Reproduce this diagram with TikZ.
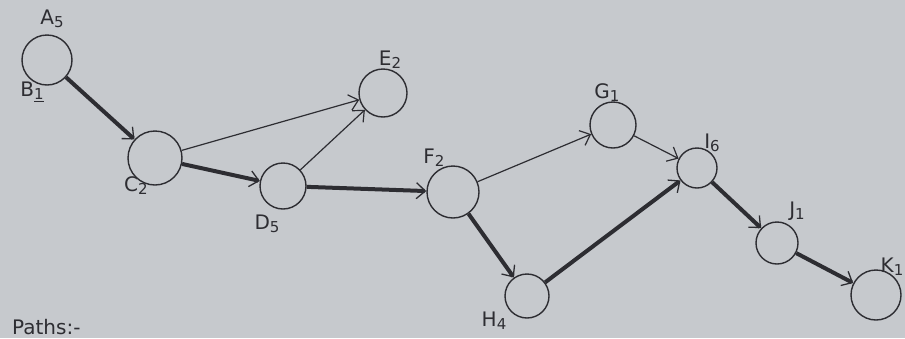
\documentclass[tikz,border=0pt]{standalone}
\usepackage{fontspec}
\setmainfont{DejaVu Sans}
\usetikzlibrary{arrows.meta}
\definecolor{paper}{RGB}{198,201,205}
\definecolor{ink}{RGB}{45,45,50}
\newcommand{\sbx}[1]{\raisebox{-3pt}{\fontsize{15}{17}\selectfont #1}}
\begin{document}
\begin{tikzpicture}[x=1pt,y=-1pt,
  evnode/.style={circle,draw=ink,line width=1.4pt,inner sep=0pt},
  lbl/.style={text=ink,font=\fontsize{20}{22}\selectfont,inner sep=0pt},
  thin/.style={draw=ink,line width=1.2pt,-{Straight Barb[length=9pt,width=16pt,line width=1.2pt]}},
  crit/.style={draw=ink,line width=4pt,-{Straight Barb[length=9pt,width=16pt,line width=1.3pt]}}]
\clip (0,0) rectangle (905,338);
\fill[paper] (0,0) rectangle (905,338);
% nodes
\node[evnode,minimum size=50pt] (A) at (47,60) {};
\node[evnode,minimum size=54pt] (C) at (155,158) {};
\node[evnode,minimum size=46pt] (D) at (283,186) {};
\node[evnode,minimum size=48pt] (E) at (383,93) {};
\node[evnode,minimum size=52pt] (F) at (453,192) {};
\node[evnode,minimum size=46pt] (G) at (613,125) {};
\node[evnode,minimum size=44pt] (H) at (527,296) {};
\node[evnode,minimum size=40pt] (I) at (697,168) {};
\node[evnode,minimum size=42pt] (J) at (777,243) {};
\node[evnode,minimum size=50pt] (K) at (876,295) {};
% labels
\node[lbl] (lA) at (52,19) {A\sbx{5}};
\node[lbl] (lB) at (32,92) {B\sbx{\underline{1}}};
\node[lbl] (lC) at (136,186) {C\sbx{2}};
\node[lbl] (lD) at (267,224) {D\sbx{5}};
\node[lbl] (lE) at (390,60) {E\sbx{2}};
\node[lbl] (lF) at (434,158) {F\sbx{2}};
\node[lbl] (lG) at (607,93) {G\sbx{1}};
\node[lbl] (lH) at (494,321) {H\sbx{4}};
\node[lbl] (lI) at (712,143) {I\sbx{6}};
\node[lbl] (lJ) at (797,211) {J\sbx{1}};
\node[lbl] (lK) at (892,267) {K\sbx{1}};
\node[lbl,anchor=west] (paths) at (12,327) {Paths:-};
% edges
\draw[crit] (A) -- (C);
\draw[thin] (C) -- (E);
\draw[crit] (C) -- (D);
\draw[thin] (D) -- (E);
\draw[crit] (D) -- (F);
\draw[thin] (F) -- (G);
\draw[crit] (F) -- (H);
\draw[crit] (H) -- (I);
\draw[thin] (G) -- (I);
\draw[crit] (I) -- (J);
\draw[crit] (J) -- (K);
\end{tikzpicture}
\end{document}
